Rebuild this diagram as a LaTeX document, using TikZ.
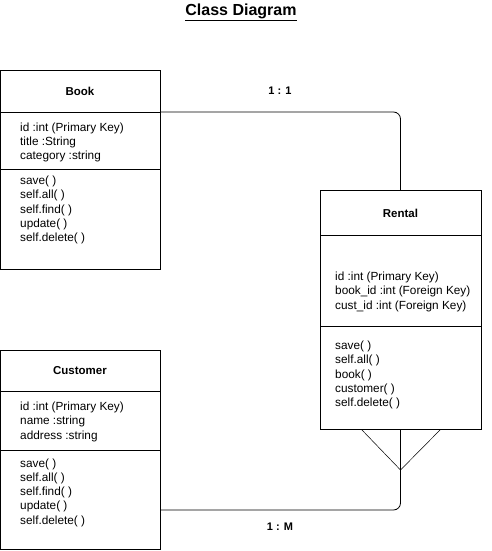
\documentclass[tikz,border=0pt]{standalone}
\usepackage{fontspec}
\setmainfont{Liberation Sans}
\usetikzlibrary{positioning}

\tikzset{
  classhead/.style={draw, rectangle, line width=0.8pt, minimum width=160pt, inner sep=0pt,
    outer sep=0pt, font=\fontsize{11.5}{13}\selectfont\bfseries},
  compart/.style={draw, rectangle, line width=0.8pt, minimum width=160pt, inner sep=0pt,
    outer sep=0pt},
  members/.style={anchor=north west, align=left, inner sep=0pt,
    font=\fontsize{11.8}{14.2}\selectfont},
  ratio/.style={font=\fontsize{11}{13}\selectfont\bfseries},
  link/.style={line width=0.8pt, rounded corners=7pt}
}

\begin{document}
\begin{tikzpicture}[x=1pt,y=-1pt]
  \useasboundingbox (0,0) rectangle (491,551);

  \node[font=\fontsize{16}{18}\selectfont\bfseries] (title) at (241,12) {\underline{Class Diagram}};

  % Book
  \node[classhead, minimum height=42pt] (book) at (80,91) {Book};
  \node[compart, minimum height=57.5pt, below=0pt of book] (bookattr) {};
  \node[compart, minimum height=100pt, below=0pt of bookattr] (bookops) {};
  \node[members] (bookattrtext) at ([shift={(20,10.5)}]bookattr.north west)
    {id :int (Primary Key)\\title :String\\category :string};
  \node[members] (bookopstext) at ([shift={(20,6.5)}]bookops.north west)
    {save( )\\self.all( )\\self.find( )\\update( )\\self.delete( )};

  % Rental
  \node[classhead, minimum width=161pt, minimum height=45pt] (rental) at (400.5,213) {Rental};
  \node[compart, minimum width=161pt, minimum height=91pt, below=0pt of rental] (rentalattr) {};
  \node[compart, minimum width=161pt, minimum height=103pt, below=0pt of rentalattr] (rentalops) {};
  \node[members] (rentalattrtext) at ([shift={(15,36.5)}]rentalattr.north west)
    {id :int (Primary Key)\\book\_id :int (Foreign Key)\\cust\_id :int (Foreign Key)};
  \node[members] (rentalopstext) at ([shift={(15,14.5)}]rentalops.north west)
    {save( )\\self.all( )\\book( )\\customer( )\\self.delete( )};

  % Customer
  \node[classhead, minimum height=41pt] (customer) at (80,370.5) {Customer};
  \node[compart, minimum height=59.5pt, below=0pt of customer] (custattr) {};
  \node[compart, minimum height=99pt, below=0pt of custattr] (custops) {};
  \node[members] (custattrtext) at ([shift={(20,11)}]custattr.north west)
    {id :int (Primary Key)\\name :string\\address :string};
  \node[members] (custopstext) at ([shift={(20,8)}]custops.north west)
    {save( )\\self.all( )\\self.find( )\\update( )\\self.delete( )};

  % relations
  \draw[link] (bookattr.north east) -| (rental.north);
  \coordinate (custlink) at (custops.east |- 0,510);
  \draw[link] (custlink) -| (rentalops.south);
  \coordinate (foot) at (rentalops.south |- 0,470);
  \draw[line width=0.5pt] ([xshift=-39pt]rentalops.south) -- (foot) -- ([xshift=40pt]rentalops.south);

  \node[ratio] (oneone) at (280,91) {1 : 1};
  \node[ratio] (onemany) at (280,527) {1 : M};
\end{tikzpicture}
\end{document}
